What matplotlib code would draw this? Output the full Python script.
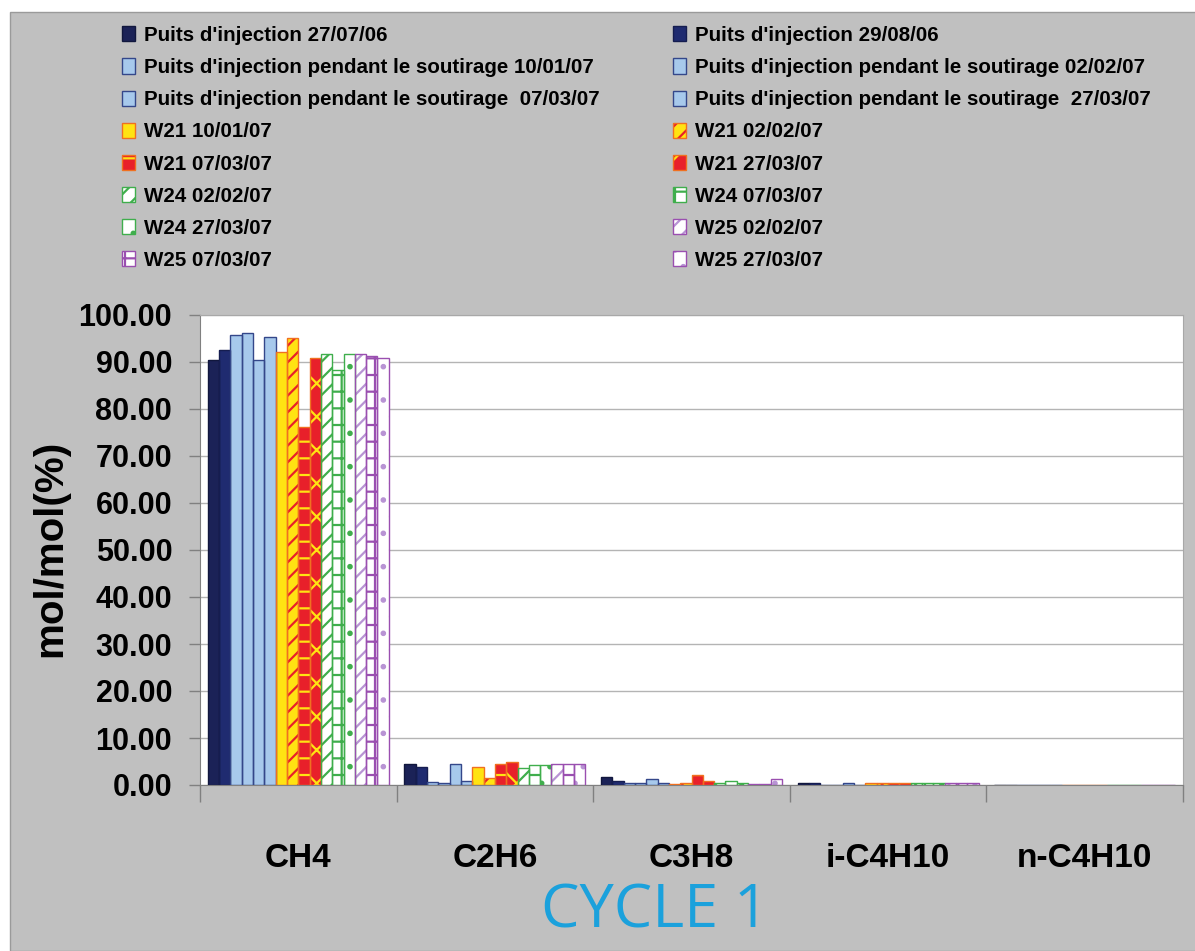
import numpy as np
import matplotlib
matplotlib.use('Agg')
import matplotlib.pyplot as plt
from matplotlib.patches import Patch, Rectangle

W, H = 1195, 951

categories = ['CH4', 'C2H6', 'C3H8', 'i-C4H10', 'n-C4H10']

labels = [
    "Puits d'injection 27/07/06",
    "Puits d'injection 29/08/06",
    "Puits d'injection pendant le soutirage 10/01/07",
    "Puits d'injection pendant le soutirage 02/02/07",
    "Puits d'injection pendant le soutirage  07/03/07",
    "Puits d'injection pendant le soutirage  27/03/07",
    "W21 10/01/07",
    "W21 02/02/07",
    "W21 07/03/07",
    "W21 27/03/07",
    "W24 02/02/07",
    "W24 07/03/07",
    "W24 27/03/07",
    "W25 02/02/07",
    "W25 07/03/07",
    "W25 27/03/07",
]

# values per series: CH4, C2H6, C3H8, i-C4H10, n-C4H10
inj_270706 = [90.4, 4.4, 1.6, 0.5, 0.05]
inj_290806 = [92.6, 3.9, 0.85, 0.45, 0.05]
sout_100107 = [95.7, 0.7, 0.35, 0.05, 0.02]
sout_020207 = [96.2, 0.4, 0.35, 0.05, 0.02]
sout_070307 = [90.4, 4.5, 1.2, 0.4, 0.05]
sout_270307 = [95.3, 0.85, 0.35, 0.05, 0.02]
w21_100107 = [92.1, 3.9, 0.2, 0.35, 0.05]
w21_020207 = [95.1, 1.5, 0.35, 0.35, 0.05]
w21_070307 = [76.2, 4.5, 2.1, 0.35, 0.05]
w21_270307 = [90.9, 4.9, 0.85, 0.35, 0.05]
w24_020207 = [91.7, 3.6, 0.35, 0.35, 0.05]
w24_070307 = [88.3, 4.2, 0.85, 0.35, 0.05]
w24_270307 = [91.7, 4.2, 0.35, 0.35, 0.05]
w25_020207 = [91.7, 4.5, 0.3, 0.35, 0.05]
w25_070307 = [91.3, 4.5, 0.3, 0.35, 0.05]
w25_270307 = [90.9, 4.5, 1.3, 0.35, 0.05]

series = [inj_270706, inj_290806, sout_100107, sout_020207, sout_070307, sout_270307,
          w21_100107, w21_020207, w21_070307, w21_270307,
          w24_020207, w24_070307, w24_270307,
          w25_020207, w25_070307, w25_270307]

navy1, navy2 = '#1b2257', '#1f2b70'
lblue, bedge = '#a7c9ec', '#34478a'
yellow, orange, red = '#ffe312', '#f07020', '#e8202a'
green, purple, lpurple = '#3fae4c', '#9a4fb0', '#b894d4'

# (face, hatch, hatch color, edge)
styles = [
    (navy1, None, navy1, '#11173d'),
    (navy2, None, navy2, '#151d50'),
    (lblue, None, lblue, bedge),
    (lblue, None, lblue, bedge),
    (lblue, None, lblue, bedge),
    (lblue, None, lblue, bedge),
    (yellow, None, yellow, orange),
    (yellow, '//', red, orange),
    (red, '-', yellow, orange),
    (red, 'x', yellow, orange),
    ('white', '//', green, green),
    ('white', '+', green, green),
    ('white', '.', green, green),
    ('white', '//', lpurple, purple),
    ('white', '+', purple, purple),
    ('white', '.', lpurple, purple),
]

plt.rcParams['hatch.linewidth'] = 1.6
plt.rcParams['font.family'] = ['Liberation Sans', 'DejaVu Sans']

fig = plt.figure(figsize=(W / 100, H / 100), dpi=100, facecolor='white')
fig.patches.append(Rectangle((10 / W, 0), 1, 1 - 12 / H, transform=fig.transFigure,
                             facecolor='#c0c0c0', edgecolor='#9a9a9a', lw=1, zorder=-10))

ax = fig.add_axes([200 / W, 1 - 785 / H, (1183 - 200) / W, (785 - 315) / H])
ax.set_facecolor('white')

x = np.arange(len(categories))
n = len(series)
group = 0.92
w = group / n
handles = []
for i, (vals, st) in enumerate(zip(series, styles)):
    face, hatch, hc, edge = st
    pos = x - group / 2 + w * (i + 0.5)
    ax.bar(pos, vals, w, color=face, hatch=hatch, edgecolor=hc, linewidth=0, zorder=2)
    ax.bar(pos, vals, w, fill=False, edgecolor=edge, linewidth=1.0, zorder=3)
    handles.append((Patch(facecolor=face, hatch=hatch, edgecolor=hc, linewidth=0),
                    Patch(fill=False, edgecolor=edge, linewidth=1.0)))

ax.set_xlim(-0.5, len(categories) - 0.5)
ax.set_ylim(0, 100)
ax.set_yticks(np.arange(0, 101, 10))
ax.set_yticklabels(['%.2f' % v for v in np.arange(0, 101, 10)],
                   fontsize=22, fontweight='bold')
ax.set_xticks(x)
ax.set_xticklabels(categories, fontsize=24, fontweight='bold')
ax.set_xticks(np.arange(-0.5, len(categories), 1), minor=True)
ax.tick_params(axis='x', which='major', length=0, pad=42)
ax.tick_params(axis='x', which='minor', length=12, color='#808080', width=1)
ax.tick_params(axis='y', length=8, color='#808080', width=1, pad=12)
ax.yaxis.grid(True, color='#b4b4b4', lw=1)
ax.set_axisbelow(True)
for s in ['top', 'right']:
    ax.spines[s].set_color('#a8a8a8')
ax.spines['left'].set_color('#808080')
ax.spines['bottom'].set_color('#808080')

fig.text(50 / W, 1 - 548 / H, 'mol/mol(%)', rotation=90, ha='center', va='center',
         fontsize=29, fontweight='bold')

prop = dict(family='Liberation Sans', weight='bold', size=14.8)
common = dict(loc='upper left', frameon=False, prop=prop, borderpad=0, borderaxespad=0,
              handlelength=0.65, handleheight=0.75, handletextpad=0.4, labelspacing=0.64)
leg1 = fig.legend(handles[0::2], labels[0::2], bbox_to_anchor=(122 / W, 1 - 26 / H), **common)
leg2 = fig.legend(handles[1::2], labels[1::2], bbox_to_anchor=(673 / W, 1 - 26 / H), **common)

fig.text(655 / W, 1 - 912 / H, 'CYCLE 1', ha='center', va='center', fontsize=44,
         family='Open Sans', color='#1ba1dc')

fig.savefig('out.png', dpi=100)
